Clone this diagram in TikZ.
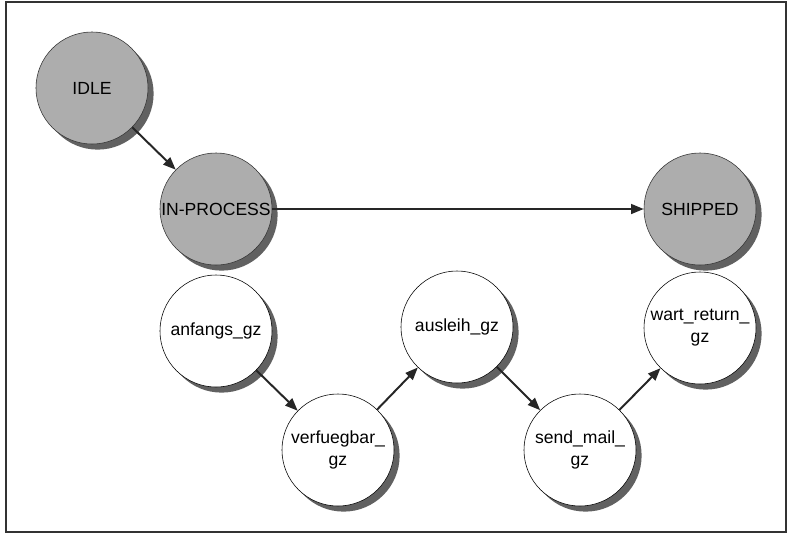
\documentclass[tikz,border=0pt]{standalone}
\usepackage{fontspec}
\setmainfont{Liberation Sans}
\usetikzlibrary{arrows.meta,shadows}

\tikzset{
  zustand/.style={circle, minimum size=2.8cm, inner sep=0pt, align=center,
    font=\fontsize{12.5}{15.5}\selectfont,
    drop shadow={shadow xshift=0.14cm, shadow yshift=-0.14cm, fill=black!62, opacity=1}},
  grauzustand/.style={zustand, draw=black!80, fill=black!32},
  weisszustand/.style={zustand, draw=black, line width=0.4pt, fill=white},
  uebergang/.style={-{Triangle[length=9pt,width=7pt]}, line width=1.4pt, black!85},
}

\begin{document}
\begin{tikzpicture}[x=0.025cm, y=-0.025cm]
  \useasboundingbox (0,0) rectangle (788,535);
  \draw[line width=0.9pt, black!80] (6,2) rectangle (786,532);

  % Hauptzustaende
  \node[grauzustand] (idle) at (92,88) {IDLE};
  \node[grauzustand] (inprocess) at (216,209) {IN-PROCESS};
  \node[grauzustand] (shipped) at (700,209) {SHIPPED};

  % Unterzustaende
  \node[weisszustand] (anfangs) at (216,331) {anfangs\_gz};
  \node[weisszustand] (verfuegbar) at (338,450) {verfuegbar\_\\gz};
  \node[weisszustand] (ausleih) at (457,327) {ausleih\_gz};
  \node[weisszustand] (sendmail) at (580,450) {send\_mail\_\\gz};
  \node[weisszustand] (wartreturn) at (700,328) {wart\_return\_\\gz};

  \draw[uebergang] (idle) -- (inprocess);
  \draw[uebergang] (inprocess) -- (shipped);
  \draw[uebergang] (anfangs) -- (verfuegbar);
  \draw[uebergang] (verfuegbar) -- (ausleih);
  \draw[uebergang] (ausleih) -- (sendmail);
  \draw[uebergang] (sendmail) -- (wartreturn);
\end{tikzpicture}
\end{document}
